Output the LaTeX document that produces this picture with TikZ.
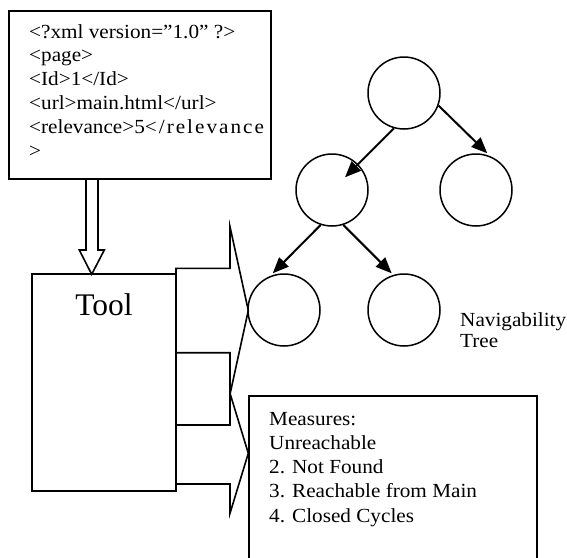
\documentclass[tikz,border=0pt]{standalone}
\usepackage{fontspec}
\setmainfont{Liberation Serif}
\newfontfamily\smallserif[FakeStretch=1.06]{Liberation Serif}
\newfontfamily\spacedserif[FakeStretch=1.06,LetterSpace=10]{Liberation Serif}
\usetikzlibrary{arrows.meta,calc}
\begin{document}
\begin{tikzpicture}[x=1pt,y=-1pt,
  boxline/.style={draw, line width=1.8pt, inner sep=0pt},
  circ/.style={circle, draw, line width=1.5pt, minimum size=72pt, inner sep=0pt},
  treearrow/.style={line width=2pt, -{Triangle[length=16pt,width=13pt]}},
  blockarrow/.style={line width=1.6pt, line join=miter},
  txt/.style={inner sep=0pt, anchor=base west}
]
\fill[white] (0,0) rectangle (567,557);
\useasboundingbox (0,0) rectangle (567,557);

% XML box
\node[boxline, anchor=north west, minimum width=262pt, minimum height=168pt] (xml) at (8,10) {};
\node[txt, font=\smallserif\fontsize{20}{23.8}\selectfont] (xmltext) at (29,38)
  {\begin{tabular}[t]{@{}l@{}}<?xml version=”1.0” ?>\\<page>\\<Id>1</Id>\\<url>main.html</url>\\<relevance>5{\spacedserif\fontsize{20}{23.8}\selectfont</relevance}\\>\end{tabular}};

% Tool box
\node[boxline, minimum width=144pt, minimum height=217pt] (tool) at (104,382.5) {};
\node[inner sep=0pt, anchor=base, font=\fontsize{31.5}{36}\selectfont] (tooltext) at (104,315) {Tool};

% hollow arrow from XML box to tool
\draw[line width=1.6pt, line join=miter] (86,178) -- (86,250) -- (79.3,250) -- (91.7,274.3) -- (104.3,250) -- (98,250) -- (98,178);

% block arrows out of the tool
\draw[blockarrow] (176,275) -- (176,268.3) -- (230,268.3) -- (230,226.7) -- (248.3,310.5) -- (230,394.3) -- (230,352.7) -- (176,352.7);
\draw[blockarrow] (176,425) -- (230,425) -- (230,393.3) -- (248.3,453.3) -- (230,513.3) -- (230,484) -- (176,484);

% tree
\node[circ] (root) at (404,93) {};
\node[circ] (midL) at (332,190) {};
\node[circ] (rightc) at (476,190) {};
\node[circ] (botL) at (284,310) {};
\node[circ] (botR) at (404,310) {};
\draw[treearrow] (root.254) -- ($(midL.center)+(13,-12.7)$);
\draw[treearrow] (root.340) -- ($(rightc.center)+(11.3,-36.7)$);
\draw[treearrow] (midL.252) -- ($(botL.center)+(-11.3,-36.7)$);
\draw[treearrow] (midL.288) -- ($(botR.center)+(-12.3,-36.7)$);

\node[txt, font=\smallserif\fontsize{20}{21}\selectfont] (navtext) at (460,326)
  {\begin{tabular}[t]{@{}l@{}}Navigability\\Tree\end{tabular}};

% measures box
\node[boxline, anchor=north west, minimum width=288pt, minimum height=172pt] (measures) at (248,395) {};
\node[txt, font=\smallserif\fontsize{20}{24.25}\selectfont] (mtext) at (269,425)
  {\begin{tabular}[t]{@{}l@{}}Measures:\\Unreachable\\2. Not Found\\3. Reachable from Main\\4. Closed Cycles\end{tabular}};
\end{tikzpicture}
\end{document}
